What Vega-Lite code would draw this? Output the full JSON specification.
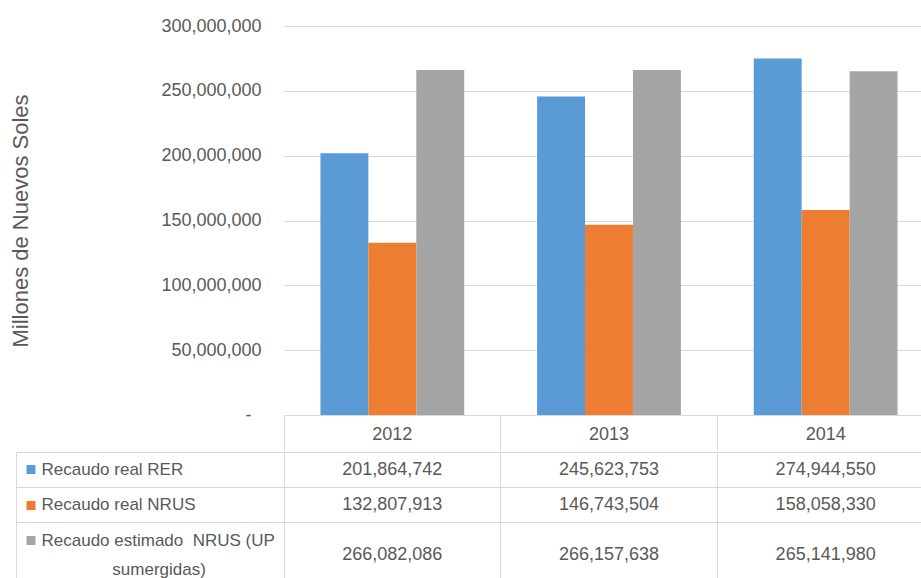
{
  "$schema": "https://vega.github.io/schema/vega-lite/v6.json",
  "padding": {"left": 9, "top": 17, "right": 0, "bottom": 0},
  "spacing": 0,
  "background": "white",
  "datasets": {
    "d": [
      {"anio": "2012", "serie": "Recaudo real RER", "valor": 201864742},
      {"anio": "2012", "serie": "Recaudo real NRUS", "valor": 132807913},
      {"anio": "2012", "serie": "Recaudo estimado NRUS (UP sumergidas)", "valor": 266082086},
      {"anio": "2013", "serie": "Recaudo real RER", "valor": 245623753},
      {"anio": "2013", "serie": "Recaudo real NRUS", "valor": 146743504},
      {"anio": "2013", "serie": "Recaudo estimado NRUS (UP sumergidas)", "valor": 266157638},
      {"anio": "2014", "serie": "Recaudo real RER", "valor": 274944550},
      {"anio": "2014", "serie": "Recaudo real NRUS", "valor": 158058330},
      {"anio": "2014", "serie": "Recaudo estimado NRUS (UP sumergidas)", "valor": 265141980}
    ]
  },
  "vconcat": [
    {
      "width": 638,
      "height": 389,
      "data": {"name": "d"},
      "mark": {"type": "bar"},
      "encoding": {
        "x": {
          "field": "anio", "type": "nominal",
          "scale": {"type": "band", "range": [0, 650], "paddingInner": 0, "paddingOuter": 0},
          "axis": {"title": null, "domain": false, "ticks": true, "bandPosition": 0, "tickSize": 35, "tickColor": "#D9D9D9", "labelAngle": 0, "labelBaseline": "middle", "labelPadding": -16, "labelFontSize": 18, "grid": false}
        },
        "xOffset": {
          "field": "serie", "type": "nominal",
          "scale": {"domain": ["Recaudo real RER", "Recaudo real NRUS", "Recaudo estimado NRUS (UP sumergidas)"], "paddingInner": 0, "paddingOuter": 0.76}
        },
        "y": {
          "field": "valor", "type": "quantitative",
          "scale": {"domain": [0, 300000000], "nice": false},
          "axis": {
            "title": "Millones de Nuevos Soles",
            "titleFontSize": 22, "titleFontWeight": "normal", "titlePadding": 128,
            "values": [0, 50000000, 100000000, 150000000, 200000000, 250000000, 300000000],
            "labelExpr": "datum.value === 0 ? '-\u00a0\u00a0\u200b' : format(datum.value, ',')",
            "labelFontSize": 18, "labelPadding": 23,
            "domain": false, "ticks": false, "grid": true, "gridColor": "#D9D9D9"
          }
        },
        "color": {
          "field": "serie", "type": "nominal",
          "scale": {"domain": ["Recaudo real RER", "Recaudo real NRUS", "Recaudo estimado NRUS (UP sumergidas)"], "range": ["#5B9BD5", "#ED7D31", "#A5A5A5"]},
          "legend": null
        }
      }
    },
    {
      "width": 638,
      "height": 128,
      "data": {"name": "d"},
      "layer": [
        {
          "transform": [{"filter": "datum.serie !== 'Recaudo estimado NRUS (UP sumergidas)'"}],
          "mark": {"type": "text", "fontSize": 18, "color": "#595959", "baseline": "middle", "font": "Liberation Sans"},
          "encoding": {
            "x": {
              "field": "anio", "type": "nominal",
              "scale": {"type": "band", "range": [0, 650], "paddingInner": 0, "paddingOuter": 0},
              "axis": {"title": null, "orient": "top", "domain": false, "ticks": false, "labels": false, "grid": true, "bandPosition": 0, "gridColor": "#D9D9D9"}
            },
            "y": {
              "field": "serie", "type": "nominal",
              "scale": {"type": "band", "domain": ["Recaudo real RER", "Recaudo real NRUS", "Recaudo estimado NRUS (UP sumergidas)"], "paddingInner": 0, "paddingOuter": 0.303, "align": 0},
              "axis": {
                "title": null, "orient": "left", "offset": 249,
                "domain": false, "grid": false,
                "ticks": true, "tickSize": 9, "tickWidth": 9,
                "tickColor": {"condition": [{"test": "datum.value === 'Recaudo real RER'", "value": "#5B9BD5"}, {"test": "datum.value === 'Recaudo real NRUS'", "value": "#ED7D31"}], "value": "#A5A5A5"},
                "labels": true, "labelAlign": "left", "labelPadding": -15, "labelBaseline": "middle",
                "labelFontSize": 17, "labelLimit": 400, "labelLineHeight": 29,
                "labelExpr": "datum.value === 'Recaudo estimado NRUS (UP sumergidas)' ? ['Recaudo estimado\u00a0 NRUS (UP', '\u200b\u00a0\u00a0\u00a0\u00a0\u00a0\u00a0\u00a0\u00a0\u00a0\u00a0\u00a0\u00a0\u00a0\u00a0\u00a0sumergidas)'] : datum.label"
              }
            },
            "text": {"field": "valor", "type": "quantitative", "format": ","}
          }
        },
        {
          "transform": [{"filter": "datum.serie === 'Recaudo estimado NRUS (UP sumergidas)'"}],
          "mark": {"type": "text", "fontSize": 18, "color": "#595959", "baseline": "middle", "dy": 14.5, "font": "Liberation Sans"},
          "encoding": {
            "x": {
              "field": "anio", "type": "nominal",
              "scale": {"type": "band", "range": [0, 650], "paddingInner": 0, "paddingOuter": 0},
              "axis": {"title": null, "orient": "top", "domain": false, "ticks": false, "labels": false, "grid": true, "bandPosition": 0, "gridColor": "#D9D9D9"}
            },
            "y": {
              "field": "serie", "type": "nominal",
              "scale": {"type": "band", "domain": ["Recaudo real RER", "Recaudo real NRUS", "Recaudo estimado NRUS (UP sumergidas)"], "paddingInner": 0, "paddingOuter": 0.303, "align": 0},
              "axis": {
                "title": null, "orient": "left", "offset": 268,
                "domain": true, "domainColor": "#D9D9D9", "grid": false,
                "ticks": true, "bandPosition": 0, "tickSize": -906, "tickColor": "#D9D9D9", "tickWidth": 1,
                "labels": false
              }
            },
            "text": {"field": "valor", "type": "quantitative", "format": ","}
          }
        }
      ],
      "resolve": {"axis": {"y": "independent"}}
    }
  ],
  "config": {
    "view": {"stroke": null},
    "font": "Liberation Sans",
    "axis": {"labelFont": "Liberation Sans", "titleFont": "Liberation Sans", "labelColor": "#595959", "titleColor": "#595959", "domainColor": "#D9D9D9", "tickColor": "#D9D9D9", "gridColor": "#D9D9D9"}
  }
}
